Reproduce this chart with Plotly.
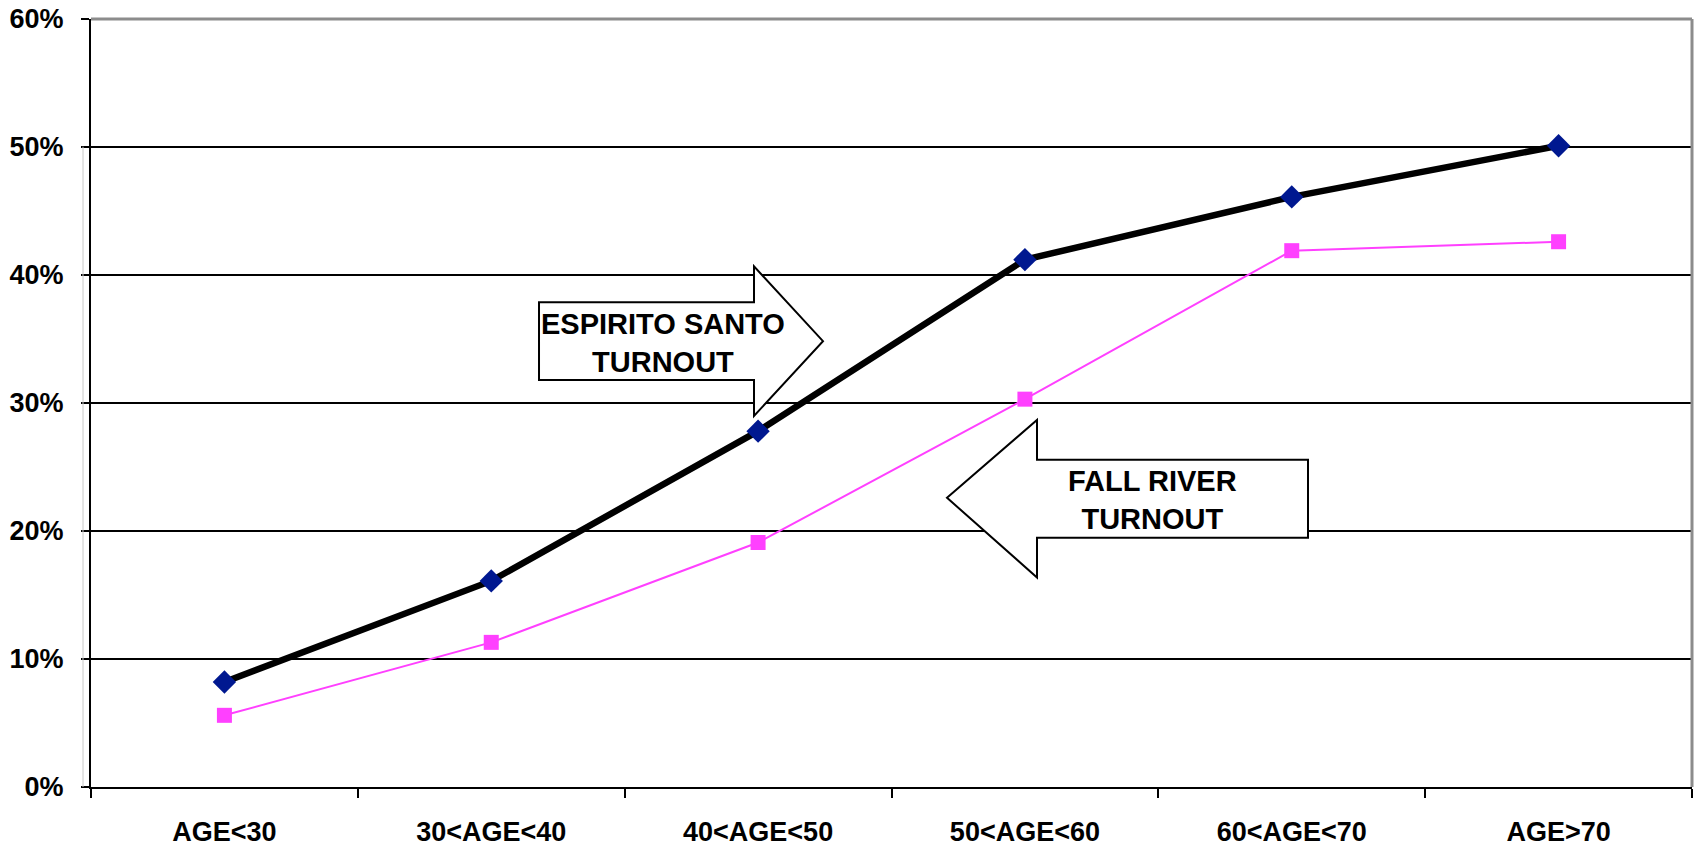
import plotly.graph_objects as go

categories = ["AGE<30", "30<AGE<40", "40<AGE<50", "50<AGE<60", "60<AGE<70", "AGE>70"]
espirito_santo = [0.082, 0.161, 0.278, 0.412, 0.461, 0.501]
fall_river = [0.056, 0.113, 0.191, 0.303, 0.419, 0.426]
y_ticks = [0.0, 0.1, 0.2, 0.3, 0.4, 0.5, 0.6]
y_tick_text = ["0%", "10%", "20%", "30%", "40%", "50%", "60%"]

W, H = 1694, 849
L, R, T, B = 91, 2, 19, 60
PW, PH = W - L - R, H - T - B


def px(x):
    return (x - L) / PW


def py(y):
    return (H - B - y) / PH


def path(points):
    return "M " + " L ".join(f"{px(x):.5f},{py(y):.5f}" for x, y in points) + " Z"


FONT = "Liberation Sans, Arial, sans-serif"

fig = go.Figure()
fig.add_trace(go.Scatter(
    x=categories, y=fall_river, mode="lines+markers", name="FALL RIVER",
    line=dict(color="#FF40FF", width=2),
    marker=dict(symbol="square", size=15, color="#FF40FF"),
))
fig.add_trace(go.Scatter(
    x=categories, y=espirito_santo, mode="lines+markers", name="ESPIRITO SANTO",
    line=dict(color="#000000", width=6.5),
    marker=dict(symbol="diamond", size=18, color="#001890"),
))

es_arrow = [(539, 303), (754, 303), (754, 267), (823, 342), (754, 417), (754, 381), (539, 381)]
fr_arrow = [(1308, 461), (1037, 461), (1037, 421), (947, 499), (1037, 579), (1037, 539), (1308, 539)]

shapes = [
    dict(type="path", xref="paper", yref="paper", path=path(es_arrow),
         fillcolor="white", line=dict(color="black", width=2), layer="above"),
    dict(type="path", xref="paper", yref="paper", path=path(fr_arrow),
         fillcolor="white", line=dict(color="black", width=2), layer="above"),
    dict(type="line", xref="paper", yref="paper", x0=0, x1=1, y0=1, y1=1,
         line=dict(color="#8c8c8c", width=3), layer="above"),
    dict(type="line", xref="paper", yref="paper", x0=1, x1=1, y0=0, y1=1,
         line=dict(color="#8c8c8c", width=3), layer="above"),
    dict(type="line", xref="paper", yref="paper", x0=px(83), x1=px(83), y0=0, y1=py(147),
         line=dict(color="#c8c8c8", width=1), layer="above"),
]

annotations = [
    dict(xref="paper", yref="paper", x=px(663), y=py(344), text="ESPIRITO SANTO<br>TURNOUT",
         showarrow=False, font=dict(family=FONT, size=29, color="black"), align="center",
         xanchor="center", yanchor="middle"),
    dict(xref="paper", yref="paper", x=px(1152), y=py(501), text="FALL RIVER<br>TURNOUT",
         showarrow=False, font=dict(family=FONT, size=29, color="black"), align="center",
         xanchor="center", yanchor="middle"),
]

fig.update_layout(
    width=W, height=H,
    margin=dict(l=L, r=R, t=T, b=B, pad=0),
    paper_bgcolor="white", plot_bgcolor="white",
    showlegend=False,
    font=dict(family=FONT, size=27, color="black"),
    shapes=shapes, annotations=annotations,
    xaxis=dict(
        type="category", range=[-0.5, 5.5], showgrid=False,
        showline=True, linecolor="black", linewidth=2,
        ticks="outside", ticklen=9, tickwidth=2, tickcolor="black",
        tickson="boundaries", ticklabelstandoff=20,
        tickfont=dict(family=FONT, size=27, color="black", weight="bold"),
        zeroline=False,
    ),
    yaxis=dict(
        range=[0, 0.6], tickvals=y_ticks, ticktext=y_tick_text,
        showgrid=True, gridcolor="black", gridwidth=2,
        showline=True, linecolor="black", linewidth=2,
        ticks="outside", ticklen=8, tickwidth=2, tickcolor="black",
        ticklabelstandoff=12,
        tickfont=dict(family=FONT, size=27, color="black", weight="bold"),
        zeroline=False,
    ),
)
fig.update_annotations(font_weight="bold")

fig.write_html("out.html", config={"displayModeBar": False},
               post_script="document.body.style.margin='0';")
